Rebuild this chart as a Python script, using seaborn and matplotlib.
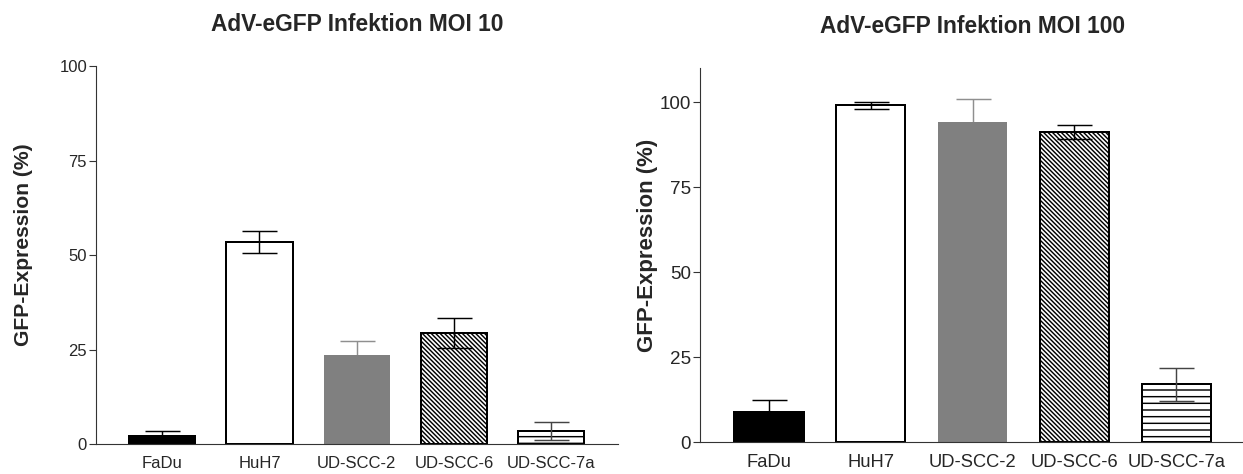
import matplotlib
matplotlib.use("Agg")
import matplotlib.pyplot as plt
import numpy as np
import pandas as pd
import seaborn as sns

# ---- data ----
cell_lines = ["FaDu", "HuH7", "UD-SCC-2", "UD-SCC-6", "UD-SCC-7a"]
moi10_mean = [2.3, 53.4, 23.6, 29.4, 3.5]
moi10_sem = [1.1, 2.9, 3.7, 3.9, 2.4]
moi100_mean = [8.9, 99.0, 94.2, 91.2, 17.0]
moi100_sem = [3.6, 1.0, 6.6, 2.0, 4.9]
titles = ["AdV-eGFP Infektion MOI 10", "AdV-eGFP Infektion MOI 100"]
y_label = "GFP-Expression (%)"
y_ticks = [0, 25, 50, 75, 100]

# ---- styles ----
face_colors = ["black", "white", "#808080", "white", "white"]
edge_colors = ["black", "black", "#808080", "black", "black"]
hatches = [None, None, None, "\\" * 6, "--"]
err_colors = ["black", "black", "#8f8f8f", "black", "#444444"]

sns.set_style("ticks")
plt.rcParams["font.family"] = ["Liberation Sans", "DejaVu Sans"]
plt.rcParams["hatch.linewidth"] = 1.3
plt.rcParams["hatch.color"] = "black"

DPI = 80
W, H = 1243, 474
fig = plt.figure(figsize=(W / DPI, H / DPI), dpi=DPI)

panels = [
    dict(rect=[96 / W, (H - 444.3) / H, 521.5 / W, (444.3 - 66) / H],
         mean=moi10_mean, sem=moi10_sem, title=titles[0], ylim=(0, 100),
         tick_fs=15, xtick_fs=15, label_fs=19, title_fs=20.5,
         label_x=-0.121, xlim=(-0.68, 4.68)),
    dict(rect=[700 / W, (H - 442.3) / H, 545.4 / W, (442.3 - 68) / H],
         mean=moi100_mean, sem=moi100_sem, title=titles[1], ylim=(0, 110),
         tick_fs=17, xtick_fs=16.5, label_fs=20, title_fs=20.5,
         label_x=-0.077, xlim=(-0.678, 4.68)),
]

for p in panels:
    ax = fig.add_axes(p["rect"])
    df = pd.DataFrame({"cell": cell_lines, "val": p["mean"]})
    sns.barplot(data=df, x="cell", y="val", ax=ax, width=0.68,
                errorbar=None, color="white")
    for i, patch in enumerate(ax.patches):
        patch.set_facecolor(face_colors[i])
        patch.set_edgecolor(edge_colors[i])
        patch.set_linewidth(1.8 if edge_colors[i] == "black" else 0.0)
        if hatches[i]:
            patch.set_hatch(hatches[i])
        patch.set_zorder(2)
    for i, (m, s) in enumerate(zip(p["mean"], p["sem"])):
        ax.errorbar(i, m, yerr=s, fmt="none", ecolor=err_colors[i],
                    elinewidth=1.3, capsize=15.75, capthick=1.3,
                    zorder=1 if face_colors[i] == "#808080" else 5)
    ax.set_xlim(*p["xlim"])
    ax.set_ylim(*p["ylim"])
    ax.set_yticks(y_ticks)
    ax.set_yticklabels([str(t) for t in y_ticks])
    ax.set_xlabel("")
    ax.set_ylabel(y_label, fontsize=p["label_fs"], fontweight="bold")
    ax.yaxis.set_label_coords(p["label_x"], 0.527)
    ax.set_title(p["title"], fontsize=p["title_fs"], fontweight="bold", pad=31.5)
    ax.tick_params(axis="y", length=6, width=1.0, pad=2, labelsize=p["tick_fs"],
                   color="#333333")
    ax.tick_params(axis="x", length=0, pad=10.5, labelsize=p["xtick_fs"])
    sns.despine(ax=ax)
    for sp in ["left", "bottom"]:
        ax.spines[sp].set_linewidth(1.0)
        ax.spines[sp].set_color("#333333")

fig.savefig("out.png", dpi=DPI)
